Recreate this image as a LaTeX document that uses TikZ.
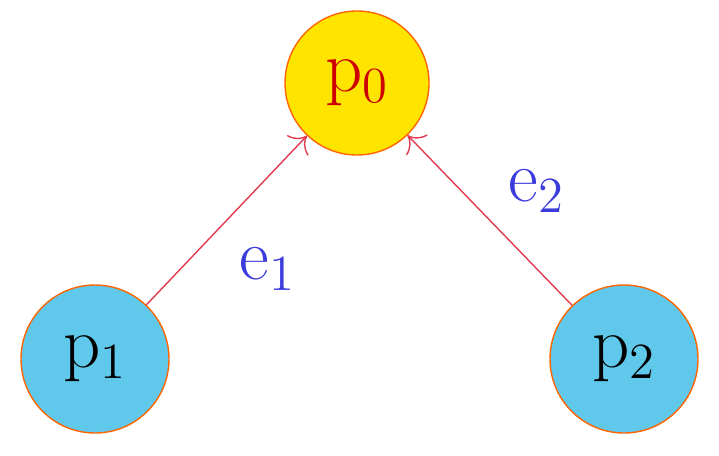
\documentclass[tikz,border=0pt]{standalone}
\usepackage{tikz}
\usetikzlibrary{positioning, arrows.meta}
\definecolor{pyellow}{RGB}{255,228,0}
\definecolor{pblue}{RGB}{95,200,235}
\definecolor{pedge}{RGB}{225,60,80}
\definecolor{plabel}{RGB}{60,60,220}

\begin{document}
\begin{tikzpicture}[
    proc/.style={draw=orange!80!red, thin, circle, fill=pblue, minimum size=1.48cm, inner sep=0pt},
    root/.style={draw=orange!80!red, thin, circle, fill=pyellow, minimum size=1.44cm, inner sep=0pt, text=red!80!black},
    link/.style={pedge, thin, -{To[length=4pt]}},
    lab/.style={text=plabel}
  ]
    \useasboundingbox (0,0) rectangle (7.19,4.55);
    \fontsize{21}{25}\selectfont

    %% processes
    \node[root] (p0) at (3.57,3.72) {$\mathrm{p}_0$};
    \node[proc] (p1) at (0.95,0.96) {$\mathrm{p}_1$};
    \node[proc] (p2) at (6.24,0.96) {$\mathrm{p}_2$};

    %% edges
    \draw[link] (p1) -- (p0);
    \draw[link] (p2) -- (p0);
    \node[lab] (e1) at (2.68,1.86) {$\mathrm{e}_1$};
    \node[lab] (e2) at (5.37,2.64) {$\mathrm{e}_2$};
\end{tikzpicture}
\end{document}
